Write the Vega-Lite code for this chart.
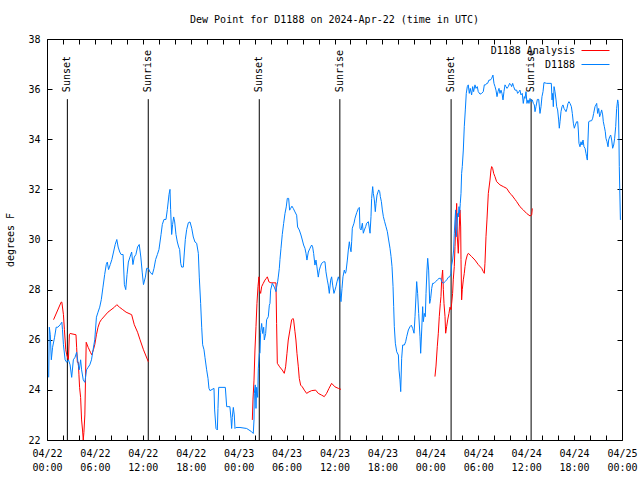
{
  "$schema": "https://vega.github.io/schema/vega-lite/v6.json",
  "width": 575,
  "height": 401,
  "autosize": {"type": "none"},
  "padding": {"left": 47, "top": 39, "right": 18, "bottom": 40},
  "background": "white",
  "title": {"text": "Dew Point for D1188 on 2024-Apr-22 (time in UTC)", "font": "DejaVu Sans Mono", "fontSize": 10, "fontWeight": "normal", "color": "black", "anchor": "middle", "baseline": "alphabetic", "offset": 1},
  "config": {
    "font": "DejaVu Sans Mono",
    "view": {"stroke": "black", "strokeWidth": 1},
    "axis": {"grid": false, "domain": false, "labelFont": "DejaVu Sans Mono", "labelFontSize": 10, "labelColor": "black", "tickColor": "black", "titleFont": "DejaVu Sans Mono", "titleFontSize": 10, "titleFontWeight": "normal", "titleColor": "black", "labelOverlap": false, "labelFlush": false},
    "legend": {"labelFont": "DejaVu Sans Mono", "labelFontSize": 10, "labelColor": "black"}
  },
  "datasets": {
    "sun": [
      {"hour": 2.55, "event": "Sunset"},
      {"hour": 12.68, "event": "Sunrise"},
      {"hour": 26.58, "event": "Sunset"},
      {"hour": 36.67, "event": "Sunrise"},
      {"hour": 50.6, "event": "Sunset"},
      {"hour": 60.62, "event": "Sunrise"}
    ],
    "obs": [
      {"series": "D1188 Analysis", "run": "a1", "hour": 0.82, "dewpoint": 26.8},
      {"series": "D1188 Analysis", "run": "a1", "hour": 1.77, "dewpoint": 27.5},
      {"series": "D1188 Analysis", "run": "a1", "hour": 1.86, "dewpoint": 27.5},
      {"series": "D1188 Analysis", "run": "a1", "hour": 2.06, "dewpoint": 27.0},
      {"series": "D1188 Analysis", "run": "a1", "hour": 2.18, "dewpoint": 26.4},
      {"series": "D1188 Analysis", "run": "a1", "hour": 2.35, "dewpoint": 25.6},
      {"series": "D1188 Analysis", "run": "a1", "hour": 2.47, "dewpoint": 25.4},
      {"series": "D1188 Analysis", "run": "a1", "hour": 2.68, "dewpoint": 25.2},
      {"series": "D1188 Analysis", "run": "a1", "hour": 2.8, "dewpoint": 26.2},
      {"series": "D1188 Analysis", "run": "a1", "hour": 2.89, "dewpoint": 26.25},
      {"series": "D1188 Analysis", "run": "a1", "hour": 3.63, "dewpoint": 26.2},
      {"series": "D1188 Analysis", "run": "a1", "hour": 3.71, "dewpoint": 25.7},
      {"series": "D1188 Analysis", "run": "a1", "hour": 3.8, "dewpoint": 25.1},
      {"series": "D1188 Analysis", "run": "a1", "hour": 3.92, "dewpoint": 25.1},
      {"series": "D1188 Analysis", "run": "a1", "hour": 4.0, "dewpoint": 24.6},
      {"series": "D1188 Analysis", "run": "a1", "hour": 4.08, "dewpoint": 24.1},
      {"series": "D1188 Analysis", "run": "a1", "hour": 4.21, "dewpoint": 23.7},
      {"series": "D1188 Analysis", "run": "a1", "hour": 4.33, "dewpoint": 22.8},
      {"series": "D1188 Analysis", "run": "a1", "hour": 4.45, "dewpoint": 22.4},
      {"series": "D1188 Analysis", "run": "a1", "hour": 4.54, "dewpoint": 22.0},
      {"series": "D1188 Analysis", "run": "a1", "hour": 4.62, "dewpoint": 22.3},
      {"series": "D1188 Analysis", "run": "a1", "hour": 4.74, "dewpoint": 23.0},
      {"series": "D1188 Analysis", "run": "a1", "hour": 4.82, "dewpoint": 24.4},
      {"series": "D1188 Analysis", "run": "a1", "hour": 4.91, "dewpoint": 25.9},
      {"series": "D1188 Analysis", "run": "a1", "hour": 5.15, "dewpoint": 25.7},
      {"series": "D1188 Analysis", "run": "a1", "hour": 5.44, "dewpoint": 25.5},
      {"series": "D1188 Analysis", "run": "a1", "hour": 5.6, "dewpoint": 25.4},
      {"series": "D1188 Analysis", "run": "a1", "hour": 5.81, "dewpoint": 25.6},
      {"series": "D1188 Analysis", "run": "a1", "hour": 5.98, "dewpoint": 25.8},
      {"series": "D1188 Analysis", "run": "a1", "hour": 6.19, "dewpoint": 26.2},
      {"series": "D1188 Analysis", "run": "a1", "hour": 6.39, "dewpoint": 26.5},
      {"series": "D1188 Analysis", "run": "a1", "hour": 6.6, "dewpoint": 26.7},
      {"series": "D1188 Analysis", "run": "a1", "hour": 6.8, "dewpoint": 26.8},
      {"series": "D1188 Analysis", "run": "a1", "hour": 7.63, "dewpoint": 27.1},
      {"series": "D1188 Analysis", "run": "a1", "hour": 8.45, "dewpoint": 27.3},
      {"series": "D1188 Analysis", "run": "a1", "hour": 8.74, "dewpoint": 27.4},
      {"series": "D1188 Analysis", "run": "a1", "hour": 9.07, "dewpoint": 27.3},
      {"series": "D1188 Analysis", "run": "a1", "hour": 9.49, "dewpoint": 27.2},
      {"series": "D1188 Analysis", "run": "a1", "hour": 9.9, "dewpoint": 27.1},
      {"series": "D1188 Analysis", "run": "a1", "hour": 10.6, "dewpoint": 27.0},
      {"series": "D1188 Analysis", "run": "a1", "hour": 10.93, "dewpoint": 26.6},
      {"series": "D1188 Analysis", "run": "a1", "hour": 11.34, "dewpoint": 26.3},
      {"series": "D1188 Analysis", "run": "a1", "hour": 11.65, "dewpoint": 26.0},
      {"series": "D1188 Analysis", "run": "a1", "hour": 12.08, "dewpoint": 25.6},
      {"series": "D1188 Analysis", "run": "a1", "hour": 12.69, "dewpoint": 25.12},
      {"series": "D1188 Analysis", "run": "a2", "hour": 25.71, "dewpoint": 22.8},
      {"series": "D1188 Analysis", "run": "a2", "hour": 25.79, "dewpoint": 23.6},
      {"series": "D1188 Analysis", "run": "a2", "hour": 25.92, "dewpoint": 24.39},
      {"series": "D1188 Analysis", "run": "a2", "hour": 26.04, "dewpoint": 25.59},
      {"series": "D1188 Analysis", "run": "a2", "hour": 26.17, "dewpoint": 26.52},
      {"series": "D1188 Analysis", "run": "a2", "hour": 26.29, "dewpoint": 27.45},
      {"series": "D1188 Analysis", "run": "a2", "hour": 26.42, "dewpoint": 28.12},
      {"series": "D1188 Analysis", "run": "a2", "hour": 26.54, "dewpoint": 28.51},
      {"series": "D1188 Analysis", "run": "a2", "hour": 26.62, "dewpoint": 27.98},
      {"series": "D1188 Analysis", "run": "a2", "hour": 26.75, "dewpoint": 27.85},
      {"series": "D1188 Analysis", "run": "a2", "hour": 26.88, "dewpoint": 28.12},
      {"series": "D1188 Analysis", "run": "a2", "hour": 27.08, "dewpoint": 28.25},
      {"series": "D1188 Analysis", "run": "a2", "hour": 27.29, "dewpoint": 28.38},
      {"series": "D1188 Analysis", "run": "a2", "hour": 27.46, "dewpoint": 28.45},
      {"series": "D1188 Analysis", "run": "a2", "hour": 27.59, "dewpoint": 28.51},
      {"series": "D1188 Analysis", "run": "a2", "hour": 27.79, "dewpoint": 28.31},
      {"series": "D1188 Analysis", "run": "a2", "hour": 28.04, "dewpoint": 28.27},
      {"series": "D1188 Analysis", "run": "a2", "hour": 28.67, "dewpoint": 28.27},
      {"series": "D1188 Analysis", "run": "a2", "hour": 28.75, "dewpoint": 26.65},
      {"series": "D1188 Analysis", "run": "a2", "hour": 28.84, "dewpoint": 25.06},
      {"series": "D1188 Analysis", "run": "a2", "hour": 29.13, "dewpoint": 24.92},
      {"series": "D1188 Analysis", "run": "a2", "hour": 29.46, "dewpoint": 24.79},
      {"series": "D1188 Analysis", "run": "a2", "hour": 29.71, "dewpoint": 24.66},
      {"series": "D1188 Analysis", "run": "a2", "hour": 29.88, "dewpoint": 24.92},
      {"series": "D1188 Analysis", "run": "a2", "hour": 30.05, "dewpoint": 25.46},
      {"series": "D1188 Analysis", "run": "a2", "hour": 30.21, "dewpoint": 25.99},
      {"series": "D1188 Analysis", "run": "a2", "hour": 30.42, "dewpoint": 26.39},
      {"series": "D1188 Analysis", "run": "a2", "hour": 30.63, "dewpoint": 26.79},
      {"series": "D1188 Analysis", "run": "a2", "hour": 30.8, "dewpoint": 26.85},
      {"series": "D1188 Analysis", "run": "a2", "hour": 30.88, "dewpoint": 26.79},
      {"series": "D1188 Analysis", "run": "a2", "hour": 31.05, "dewpoint": 26.32},
      {"series": "D1188 Analysis", "run": "a2", "hour": 31.17, "dewpoint": 25.99},
      {"series": "D1188 Analysis", "run": "a2", "hour": 31.3, "dewpoint": 25.46},
      {"series": "D1188 Analysis", "run": "a2", "hour": 31.47, "dewpoint": 24.92},
      {"series": "D1188 Analysis", "run": "a2", "hour": 31.59, "dewpoint": 24.46},
      {"series": "D1188 Analysis", "run": "a2", "hour": 31.76, "dewpoint": 24.19},
      {"series": "D1188 Analysis", "run": "a2", "hour": 31.97, "dewpoint": 24.12},
      {"series": "D1188 Analysis", "run": "a2", "hour": 32.22, "dewpoint": 23.99},
      {"series": "D1188 Analysis", "run": "a2", "hour": 32.51, "dewpoint": 23.86},
      {"series": "D1188 Analysis", "run": "a2", "hour": 32.8, "dewpoint": 23.92},
      {"series": "D1188 Analysis", "run": "a2", "hour": 33.14, "dewpoint": 23.97},
      {"series": "D1188 Analysis", "run": "a2", "hour": 33.64, "dewpoint": 23.99},
      {"series": "D1188 Analysis", "run": "a2", "hour": 33.97, "dewpoint": 23.86},
      {"series": "D1188 Analysis", "run": "a2", "hour": 34.39, "dewpoint": 23.79},
      {"series": "D1188 Analysis", "run": "a2", "hour": 34.72, "dewpoint": 23.73},
      {"series": "D1188 Analysis", "run": "a2", "hour": 35.01, "dewpoint": 23.86},
      {"series": "D1188 Analysis", "run": "a2", "hour": 35.31, "dewpoint": 24.06},
      {"series": "D1188 Analysis", "run": "a2", "hour": 35.64, "dewpoint": 24.26},
      {"series": "D1188 Analysis", "run": "a2", "hour": 36.06, "dewpoint": 24.12},
      {"series": "D1188 Analysis", "run": "a2", "hour": 36.48, "dewpoint": 24.06},
      {"series": "D1188 Analysis", "run": "a2", "hour": 36.81, "dewpoint": 24.02},
      {"series": "D1188 Analysis", "run": "a3", "hour": 48.58, "dewpoint": 24.53},
      {"series": "D1188 Analysis", "run": "a3", "hour": 48.71, "dewpoint": 24.95},
      {"series": "D1188 Analysis", "run": "a3", "hour": 48.87, "dewpoint": 25.72},
      {"series": "D1188 Analysis", "run": "a3", "hour": 49.0, "dewpoint": 26.26},
      {"series": "D1188 Analysis", "run": "a3", "hour": 49.12, "dewpoint": 26.92},
      {"series": "D1188 Analysis", "run": "a3", "hour": 49.25, "dewpoint": 27.45},
      {"series": "D1188 Analysis", "run": "a3", "hour": 49.33, "dewpoint": 27.72},
      {"series": "D1188 Analysis", "run": "a3", "hour": 49.42, "dewpoint": 28.39},
      {"series": "D1188 Analysis", "run": "a3", "hour": 49.54, "dewpoint": 28.78},
      {"series": "D1188 Analysis", "run": "a3", "hour": 49.63, "dewpoint": 28.0},
      {"series": "D1188 Analysis", "run": "a3", "hour": 49.71, "dewpoint": 27.45},
      {"series": "D1188 Analysis", "run": "a3", "hour": 49.84, "dewpoint": 26.92},
      {"series": "D1188 Analysis", "run": "a3", "hour": 49.92, "dewpoint": 26.26},
      {"series": "D1188 Analysis", "run": "a3", "hour": 50.04, "dewpoint": 26.52},
      {"series": "D1188 Analysis", "run": "a3", "hour": 50.17, "dewpoint": 26.79},
      {"series": "D1188 Analysis", "run": "a3", "hour": 50.33, "dewpoint": 27.05},
      {"series": "D1188 Analysis", "run": "a3", "hour": 50.46, "dewpoint": 27.3},
      {"series": "D1188 Analysis", "run": "a3", "hour": 50.59, "dewpoint": 27.2},
      {"series": "D1188 Analysis", "run": "a3", "hour": 50.67, "dewpoint": 27.45},
      {"series": "D1188 Analysis", "run": "a3", "hour": 50.79, "dewpoint": 27.85},
      {"series": "D1188 Analysis", "run": "a3", "hour": 50.87, "dewpoint": 28.39},
      {"series": "D1188 Analysis", "run": "a3", "hour": 51.0, "dewpoint": 28.92},
      {"series": "D1188 Analysis", "run": "a3", "hour": 51.09, "dewpoint": 29.72},
      {"series": "D1188 Analysis", "run": "a3", "hour": 51.21, "dewpoint": 30.78},
      {"series": "D1188 Analysis", "run": "a3", "hour": 51.3, "dewpoint": 31.44},
      {"series": "D1188 Analysis", "run": "a3", "hour": 51.38, "dewpoint": 30.1},
      {"series": "D1188 Analysis", "run": "a3", "hour": 51.5, "dewpoint": 29.45},
      {"series": "D1188 Analysis", "run": "a3", "hour": 51.63, "dewpoint": 30.5},
      {"series": "D1188 Analysis", "run": "a3", "hour": 51.71, "dewpoint": 31.18},
      {"series": "D1188 Analysis", "run": "a3", "hour": 51.8, "dewpoint": 30.5},
      {"series": "D1188 Analysis", "run": "a3", "hour": 51.84, "dewpoint": 29.2},
      {"series": "D1188 Analysis", "run": "a3", "hour": 51.92, "dewpoint": 27.59},
      {"series": "D1188 Analysis", "run": "a3", "hour": 52.0, "dewpoint": 28.0},
      {"series": "D1188 Analysis", "run": "a3", "hour": 52.13, "dewpoint": 28.39},
      {"series": "D1188 Analysis", "run": "a3", "hour": 52.25, "dewpoint": 28.65},
      {"series": "D1188 Analysis", "run": "a3", "hour": 52.34, "dewpoint": 28.92},
      {"series": "D1188 Analysis", "run": "a3", "hour": 52.46, "dewpoint": 29.18},
      {"series": "D1188 Analysis", "run": "a3", "hour": 52.63, "dewpoint": 29.38},
      {"series": "D1188 Analysis", "run": "a3", "hour": 52.76, "dewpoint": 29.45},
      {"series": "D1188 Analysis", "run": "a3", "hour": 53.17, "dewpoint": 29.32},
      {"series": "D1188 Analysis", "run": "a3", "hour": 53.59, "dewpoint": 29.18},
      {"series": "D1188 Analysis", "run": "a3", "hour": 54.0, "dewpoint": 29.0},
      {"series": "D1188 Analysis", "run": "a3", "hour": 54.43, "dewpoint": 28.85},
      {"series": "D1188 Analysis", "run": "a3", "hour": 54.63, "dewpoint": 28.72},
      {"series": "D1188 Analysis", "run": "a3", "hour": 54.76, "dewpoint": 28.65},
      {"series": "D1188 Analysis", "run": "a3", "hour": 54.84, "dewpoint": 29.05},
      {"series": "D1188 Analysis", "run": "a3", "hour": 54.97, "dewpoint": 30.11},
      {"series": "D1188 Analysis", "run": "a3", "hour": 55.09, "dewpoint": 30.78},
      {"series": "D1188 Analysis", "run": "a3", "hour": 55.26, "dewpoint": 31.84},
      {"series": "D1188 Analysis", "run": "a3", "hour": 55.47, "dewpoint": 32.37},
      {"series": "D1188 Analysis", "run": "a3", "hour": 55.59, "dewpoint": 32.77},
      {"series": "D1188 Analysis", "run": "a3", "hour": 55.68, "dewpoint": 32.91},
      {"series": "D1188 Analysis", "run": "a3", "hour": 55.8, "dewpoint": 32.84},
      {"series": "D1188 Analysis", "run": "a3", "hour": 55.93, "dewpoint": 32.64},
      {"series": "D1188 Analysis", "run": "a3", "hour": 56.09, "dewpoint": 32.51},
      {"series": "D1188 Analysis", "run": "a3", "hour": 56.3, "dewpoint": 32.31},
      {"series": "D1188 Analysis", "run": "a3", "hour": 56.72, "dewpoint": 32.18},
      {"series": "D1188 Analysis", "run": "a3", "hour": 57.14, "dewpoint": 32.11},
      {"series": "D1188 Analysis", "run": "a3", "hour": 57.56, "dewpoint": 32.04},
      {"series": "D1188 Analysis", "run": "a3", "hour": 57.97, "dewpoint": 31.84},
      {"series": "D1188 Analysis", "run": "a3", "hour": 58.18, "dewpoint": 31.78},
      {"series": "D1188 Analysis", "run": "a3", "hour": 58.6, "dewpoint": 31.6},
      {"series": "D1188 Analysis", "run": "a3", "hour": 58.81, "dewpoint": 31.51},
      {"series": "D1188 Analysis", "run": "a3", "hour": 59.22, "dewpoint": 31.31},
      {"series": "D1188 Analysis", "run": "a3", "hour": 59.64, "dewpoint": 31.18},
      {"series": "D1188 Analysis", "run": "a3", "hour": 60.06, "dewpoint": 31.04},
      {"series": "D1188 Analysis", "run": "a3", "hour": 60.48, "dewpoint": 30.94},
      {"series": "D1188 Analysis", "run": "a3", "hour": 60.69, "dewpoint": 30.98},
      {"series": "D1188 Analysis", "run": "a3", "hour": 60.77, "dewpoint": 31.24},
      {"series": "D1188", "run": "b", "hour": 0.21, "dewpoint": 24.5},
      {"series": "D1188", "run": "b", "hour": 0.29, "dewpoint": 26.5},
      {"series": "D1188", "run": "b", "hour": 0.41, "dewpoint": 26.2},
      {"series": "D1188", "run": "b", "hour": 0.54, "dewpoint": 25.2},
      {"series": "D1188", "run": "b", "hour": 0.7, "dewpoint": 25.7},
      {"series": "D1188", "run": "b", "hour": 0.95, "dewpoint": 26.1},
      {"series": "D1188", "run": "b", "hour": 1.15, "dewpoint": 26.5},
      {"series": "D1188", "run": "b", "hour": 1.36, "dewpoint": 26.5},
      {"series": "D1188", "run": "b", "hour": 1.65, "dewpoint": 26.6},
      {"series": "D1188", "run": "b", "hour": 1.86, "dewpoint": 26.7},
      {"series": "D1188", "run": "b", "hour": 1.94, "dewpoint": 26.4},
      {"series": "D1188", "run": "b", "hour": 2.06, "dewpoint": 25.8},
      {"series": "D1188", "run": "b", "hour": 2.27, "dewpoint": 25.2},
      {"series": "D1188", "run": "b", "hour": 2.47, "dewpoint": 25.1},
      {"series": "D1188", "run": "b", "hour": 2.68, "dewpoint": 25.2},
      {"series": "D1188", "run": "b", "hour": 2.89, "dewpoint": 25.0},
      {"series": "D1188", "run": "b", "hour": 3.09, "dewpoint": 24.5},
      {"series": "D1188", "run": "b", "hour": 3.3, "dewpoint": 25.2},
      {"series": "D1188", "run": "b", "hour": 3.51, "dewpoint": 25.3},
      {"series": "D1188", "run": "b", "hour": 3.71, "dewpoint": 25.5},
      {"series": "D1188", "run": "b", "hour": 3.92, "dewpoint": 25.0},
      {"series": "D1188", "run": "b", "hour": 4.04, "dewpoint": 24.8},
      {"series": "D1188", "run": "b", "hour": 4.21, "dewpoint": 25.2},
      {"series": "D1188", "run": "b", "hour": 4.33, "dewpoint": 24.8},
      {"series": "D1188", "run": "b", "hour": 4.54, "dewpoint": 24.4},
      {"series": "D1188", "run": "b", "hour": 4.74, "dewpoint": 24.3},
      {"series": "D1188", "run": "b", "hour": 4.95, "dewpoint": 24.8},
      {"series": "D1188", "run": "b", "hour": 5.15, "dewpoint": 24.9},
      {"series": "D1188", "run": "b", "hour": 5.36, "dewpoint": 25.0},
      {"series": "D1188", "run": "b", "hour": 5.57, "dewpoint": 25.2},
      {"series": "D1188", "run": "b", "hour": 5.77, "dewpoint": 25.6},
      {"series": "D1188", "run": "b", "hour": 5.98, "dewpoint": 26.0},
      {"series": "D1188", "run": "b", "hour": 6.19, "dewpoint": 26.9},
      {"series": "D1188", "run": "b", "hour": 6.39, "dewpoint": 27.1},
      {"series": "D1188", "run": "b", "hour": 6.6, "dewpoint": 27.3},
      {"series": "D1188", "run": "b", "hour": 6.8, "dewpoint": 27.6},
      {"series": "D1188", "run": "b", "hour": 7.01, "dewpoint": 28.1},
      {"series": "D1188", "run": "b", "hour": 7.22, "dewpoint": 28.6},
      {"series": "D1188", "run": "b", "hour": 7.42, "dewpoint": 29.0},
      {"series": "D1188", "run": "b", "hour": 7.55, "dewpoint": 29.1},
      {"series": "D1188", "run": "b", "hour": 7.71, "dewpoint": 28.8},
      {"series": "D1188", "run": "b", "hour": 7.92, "dewpoint": 29.0},
      {"series": "D1188", "run": "b", "hour": 8.12, "dewpoint": 29.2},
      {"series": "D1188", "run": "b", "hour": 8.33, "dewpoint": 29.5},
      {"series": "D1188", "run": "b", "hour": 8.54, "dewpoint": 29.8},
      {"series": "D1188", "run": "b", "hour": 8.74, "dewpoint": 30.0},
      {"series": "D1188", "run": "b", "hour": 8.91, "dewpoint": 29.7},
      {"series": "D1188", "run": "b", "hour": 9.11, "dewpoint": 29.5},
      {"series": "D1188", "run": "b", "hour": 9.28, "dewpoint": 29.4},
      {"series": "D1188", "run": "b", "hour": 9.53, "dewpoint": 29.4},
      {"series": "D1188", "run": "b", "hour": 9.69, "dewpoint": 28.2},
      {"series": "D1188", "run": "b", "hour": 9.86, "dewpoint": 28.0},
      {"series": "D1188", "run": "b", "hour": 10.02, "dewpoint": 28.6},
      {"series": "D1188", "run": "b", "hour": 10.19, "dewpoint": 29.1},
      {"series": "D1188", "run": "b", "hour": 10.39, "dewpoint": 29.3},
      {"series": "D1188", "run": "b", "hour": 10.6, "dewpoint": 29.5},
      {"series": "D1188", "run": "b", "hour": 10.76, "dewpoint": 29.0},
      {"series": "D1188", "run": "b", "hour": 10.93, "dewpoint": 29.3},
      {"series": "D1188", "run": "b", "hour": 11.13, "dewpoint": 29.4},
      {"series": "D1188", "run": "b", "hour": 11.34, "dewpoint": 29.7},
      {"series": "D1188", "run": "b", "hour": 11.55, "dewpoint": 29.8},
      {"series": "D1188", "run": "b", "hour": 11.75, "dewpoint": 29.3},
      {"series": "D1188", "run": "b", "hour": 11.92, "dewpoint": 28.7},
      {"series": "D1188", "run": "b", "hour": 12.08, "dewpoint": 28.2},
      {"series": "D1188", "run": "b", "hour": 12.32, "dewpoint": 28.5},
      {"series": "D1188", "run": "b", "hour": 12.48, "dewpoint": 28.85},
      {"series": "D1188", "run": "b", "hour": 12.69, "dewpoint": 28.85},
      {"series": "D1188", "run": "b", "hour": 12.9, "dewpoint": 28.7},
      {"series": "D1188", "run": "b", "hour": 13.19, "dewpoint": 28.6},
      {"series": "D1188", "run": "b", "hour": 13.4, "dewpoint": 28.85},
      {"series": "D1188", "run": "b", "hour": 13.6, "dewpoint": 29.2},
      {"series": "D1188", "run": "b", "hour": 13.82, "dewpoint": 29.4},
      {"series": "D1188", "run": "b", "hour": 14.02, "dewpoint": 29.6},
      {"series": "D1188", "run": "b", "hour": 14.15, "dewpoint": 29.9},
      {"series": "D1188", "run": "b", "hour": 14.28, "dewpoint": 30.2},
      {"series": "D1188", "run": "b", "hour": 14.44, "dewpoint": 30.6},
      {"series": "D1188", "run": "b", "hour": 14.65, "dewpoint": 30.8},
      {"series": "D1188", "run": "b", "hour": 14.9, "dewpoint": 30.8},
      {"series": "D1188", "run": "b", "hour": 15.07, "dewpoint": 31.2},
      {"series": "D1188", "run": "b", "hour": 15.28, "dewpoint": 31.8},
      {"series": "D1188", "run": "b", "hour": 15.4, "dewpoint": 32.0},
      {"series": "D1188", "run": "b", "hour": 15.48, "dewpoint": 31.2},
      {"series": "D1188", "run": "b", "hour": 15.61, "dewpoint": 30.2},
      {"series": "D1188", "run": "b", "hour": 15.73, "dewpoint": 30.6},
      {"series": "D1188", "run": "b", "hour": 15.86, "dewpoint": 30.9},
      {"series": "D1188", "run": "b", "hour": 15.99, "dewpoint": 30.7},
      {"series": "D1188", "run": "b", "hour": 16.15, "dewpoint": 30.2},
      {"series": "D1188", "run": "b", "hour": 16.32, "dewpoint": 29.9},
      {"series": "D1188", "run": "b", "hour": 16.49, "dewpoint": 29.7},
      {"series": "D1188", "run": "b", "hour": 16.61, "dewpoint": 29.6},
      {"series": "D1188", "run": "b", "hour": 16.74, "dewpoint": 29.05},
      {"series": "D1188", "run": "b", "hour": 16.86, "dewpoint": 28.9},
      {"series": "D1188", "run": "b", "hour": 17.07, "dewpoint": 28.9},
      {"series": "D1188", "run": "b", "hour": 17.2, "dewpoint": 29.5},
      {"series": "D1188", "run": "b", "hour": 17.32, "dewpoint": 30.0},
      {"series": "D1188", "run": "b", "hour": 17.49, "dewpoint": 30.4},
      {"series": "D1188", "run": "b", "hour": 17.7, "dewpoint": 30.67},
      {"series": "D1188", "run": "b", "hour": 17.91, "dewpoint": 30.7},
      {"series": "D1188", "run": "b", "hour": 18.12, "dewpoint": 30.45},
      {"series": "D1188", "run": "b", "hour": 18.32, "dewpoint": 30.1},
      {"series": "D1188", "run": "b", "hour": 18.53, "dewpoint": 29.9},
      {"series": "D1188", "run": "b", "hour": 18.74, "dewpoint": 29.85},
      {"series": "D1188", "run": "b", "hour": 18.95, "dewpoint": 29.45},
      {"series": "D1188", "run": "b", "hour": 19.07, "dewpoint": 28.5},
      {"series": "D1188", "run": "b", "hour": 19.24, "dewpoint": 27.45},
      {"series": "D1188", "run": "b", "hour": 19.37, "dewpoint": 26.5},
      {"series": "D1188", "run": "b", "hour": 19.49, "dewpoint": 25.8},
      {"series": "D1188", "run": "b", "hour": 19.66, "dewpoint": 25.6},
      {"series": "D1188", "run": "b", "hour": 19.78, "dewpoint": 25.3},
      {"series": "D1188", "run": "b", "hour": 19.99, "dewpoint": 24.8},
      {"series": "D1188", "run": "b", "hour": 20.16, "dewpoint": 24.46},
      {"series": "D1188", "run": "b", "hour": 20.28, "dewpoint": 24.06},
      {"series": "D1188", "run": "b", "hour": 20.41, "dewpoint": 23.97},
      {"series": "D1188", "run": "b", "hour": 20.91, "dewpoint": 24.06},
      {"series": "D1188", "run": "b", "hour": 20.99, "dewpoint": 23.2},
      {"series": "D1188", "run": "b", "hour": 21.16, "dewpoint": 22.46},
      {"series": "D1188", "run": "b", "hour": 21.33, "dewpoint": 22.4},
      {"series": "D1188", "run": "b", "hour": 21.41, "dewpoint": 23.26},
      {"series": "D1188", "run": "b", "hour": 21.5, "dewpoint": 24.1},
      {"series": "D1188", "run": "b", "hour": 22.33, "dewpoint": 24.1},
      {"series": "D1188", "run": "b", "hour": 22.5, "dewpoint": 23.33},
      {"series": "D1188", "run": "b", "hour": 22.9, "dewpoint": 23.33},
      {"series": "D1188", "run": "b", "hour": 23.04, "dewpoint": 22.86},
      {"series": "D1188", "run": "b", "hour": 23.12, "dewpoint": 22.46},
      {"series": "D1188", "run": "b", "hour": 23.2, "dewpoint": 22.9},
      {"series": "D1188", "run": "b", "hour": 23.33, "dewpoint": 23.3},
      {"series": "D1188", "run": "b", "hour": 23.45, "dewpoint": 23.0},
      {"series": "D1188", "run": "b", "hour": 23.54, "dewpoint": 22.46},
      {"series": "D1188", "run": "b", "hour": 23.66, "dewpoint": 22.5},
      {"series": "D1188", "run": "b", "hour": 24.17, "dewpoint": 22.5},
      {"series": "D1188", "run": "b", "hour": 25.0, "dewpoint": 22.46},
      {"series": "D1188", "run": "b", "hour": 25.29, "dewpoint": 22.4},
      {"series": "D1188", "run": "b", "hour": 25.62, "dewpoint": 22.33},
      {"series": "D1188", "run": "b", "hour": 25.83, "dewpoint": 22.26},
      {"series": "D1188", "run": "b", "hour": 25.92, "dewpoint": 22.8},
      {"series": "D1188", "run": "b", "hour": 25.96, "dewpoint": 23.86},
      {"series": "D1188", "run": "b", "hour": 26.08, "dewpoint": 24.2},
      {"series": "D1188", "run": "b", "hour": 26.17, "dewpoint": 23.26},
      {"series": "D1188", "run": "b", "hour": 26.25, "dewpoint": 24.1},
      {"series": "D1188", "run": "b", "hour": 26.38, "dewpoint": 23.7},
      {"series": "D1188", "run": "b", "hour": 26.46, "dewpoint": 24.86},
      {"series": "D1188", "run": "b", "hour": 26.59, "dewpoint": 25.46},
      {"series": "D1188", "run": "b", "hour": 26.67, "dewpoint": 25.46},
      {"series": "D1188", "run": "b", "hour": 26.75, "dewpoint": 26.3},
      {"series": "D1188", "run": "b", "hour": 26.88, "dewpoint": 26.65},
      {"series": "D1188", "run": "b", "hour": 27.0, "dewpoint": 26.25},
      {"series": "D1188", "run": "b", "hour": 27.13, "dewpoint": 26.5},
      {"series": "D1188", "run": "b", "hour": 27.21, "dewpoint": 25.99},
      {"series": "D1188", "run": "b", "hour": 27.38, "dewpoint": 26.25},
      {"series": "D1188", "run": "b", "hour": 27.5, "dewpoint": 26.8},
      {"series": "D1188", "run": "b", "hour": 27.71, "dewpoint": 26.92},
      {"series": "D1188", "run": "b", "hour": 27.84, "dewpoint": 27.38},
      {"series": "D1188", "run": "b", "hour": 27.92, "dewpoint": 27.45},
      {"series": "D1188", "run": "b", "hour": 28.0, "dewpoint": 27.98},
      {"series": "D1188", "run": "b", "hour": 28.21, "dewpoint": 28.25},
      {"series": "D1188", "run": "b", "hour": 28.46, "dewpoint": 28.1},
      {"series": "D1188", "run": "b", "hour": 28.67, "dewpoint": 27.92},
      {"series": "D1188", "run": "b", "hour": 28.75, "dewpoint": 28.1},
      {"series": "D1188", "run": "b", "hour": 28.88, "dewpoint": 28.31},
      {"series": "D1188", "run": "b", "hour": 28.96, "dewpoint": 28.5},
      {"series": "D1188", "run": "b", "hour": 29.09, "dewpoint": 28.85},
      {"series": "D1188", "run": "b", "hour": 29.17, "dewpoint": 29.2},
      {"series": "D1188", "run": "b", "hour": 29.3, "dewpoint": 29.65},
      {"series": "D1188", "run": "b", "hour": 29.46, "dewpoint": 30.2},
      {"series": "D1188", "run": "b", "hour": 29.63, "dewpoint": 30.64},
      {"series": "D1188", "run": "b", "hour": 29.8, "dewpoint": 31.04},
      {"series": "D1188", "run": "b", "hour": 29.96, "dewpoint": 31.3},
      {"series": "D1188", "run": "b", "hour": 30.09, "dewpoint": 31.64},
      {"series": "D1188", "run": "b", "hour": 30.26, "dewpoint": 31.64},
      {"series": "D1188", "run": "b", "hour": 30.38, "dewpoint": 31.17},
      {"series": "D1188", "run": "b", "hour": 30.51, "dewpoint": 31.24},
      {"series": "D1188", "run": "b", "hour": 30.67, "dewpoint": 31.33},
      {"series": "D1188", "run": "b", "hour": 30.84, "dewpoint": 31.24},
      {"series": "D1188", "run": "b", "hour": 31.05, "dewpoint": 31.1},
      {"series": "D1188", "run": "b", "hour": 31.26, "dewpoint": 30.97},
      {"series": "D1188", "run": "b", "hour": 31.38, "dewpoint": 30.5},
      {"series": "D1188", "run": "b", "hour": 31.59, "dewpoint": 30.38},
      {"series": "D1188", "run": "b", "hour": 31.8, "dewpoint": 30.18},
      {"series": "D1188", "run": "b", "hour": 31.97, "dewpoint": 29.98},
      {"series": "D1188", "run": "b", "hour": 32.13, "dewpoint": 29.78},
      {"series": "D1188", "run": "b", "hour": 32.3, "dewpoint": 29.65},
      {"series": "D1188", "run": "b", "hour": 32.43, "dewpoint": 29.45},
      {"series": "D1188", "run": "b", "hour": 32.55, "dewpoint": 29.18},
      {"series": "D1188", "run": "b", "hour": 32.72, "dewpoint": 29.5},
      {"series": "D1188", "run": "b", "hour": 32.93, "dewpoint": 29.65},
      {"series": "D1188", "run": "b", "hour": 33.14, "dewpoint": 29.78},
      {"series": "D1188", "run": "b", "hour": 33.26, "dewpoint": 29.71},
      {"series": "D1188", "run": "b", "hour": 33.39, "dewpoint": 29.44},
      {"series": "D1188", "run": "b", "hour": 33.55, "dewpoint": 28.98},
      {"series": "D1188", "run": "b", "hour": 33.68, "dewpoint": 29.18},
      {"series": "D1188", "run": "b", "hour": 33.8, "dewpoint": 28.91},
      {"series": "D1188", "run": "b", "hour": 33.97, "dewpoint": 28.5},
      {"series": "D1188", "run": "b", "hour": 34.1, "dewpoint": 28.78},
      {"series": "D1188", "run": "b", "hour": 34.22, "dewpoint": 28.91},
      {"series": "D1188", "run": "b", "hour": 34.39, "dewpoint": 29.05},
      {"series": "D1188", "run": "b", "hour": 34.64, "dewpoint": 29.11},
      {"series": "D1188", "run": "b", "hour": 34.81, "dewpoint": 29.11},
      {"series": "D1188", "run": "b", "hour": 34.93, "dewpoint": 28.71},
      {"series": "D1188", "run": "b", "hour": 35.1, "dewpoint": 28.38},
      {"series": "D1188", "run": "b", "hour": 35.22, "dewpoint": 28.18},
      {"series": "D1188", "run": "b", "hour": 35.35, "dewpoint": 27.85},
      {"series": "D1188", "run": "b", "hour": 35.52, "dewpoint": 28.38},
      {"series": "D1188", "run": "b", "hour": 35.64, "dewpoint": 28.51},
      {"series": "D1188", "run": "b", "hour": 35.77, "dewpoint": 28.18},
      {"series": "D1188", "run": "b", "hour": 35.93, "dewpoint": 27.85},
      {"series": "D1188", "run": "b", "hour": 36.06, "dewpoint": 27.98},
      {"series": "D1188", "run": "b", "hour": 36.18, "dewpoint": 28.12},
      {"series": "D1188", "run": "b", "hour": 36.31, "dewpoint": 28.31},
      {"series": "D1188", "run": "b", "hour": 36.48, "dewpoint": 28.51},
      {"series": "D1188", "run": "b", "hour": 36.6, "dewpoint": 28.38},
      {"series": "D1188", "run": "b", "hour": 36.73, "dewpoint": 27.78},
      {"series": "D1188", "run": "b", "hour": 36.81, "dewpoint": 27.52},
      {"series": "D1188", "run": "b", "hour": 36.94, "dewpoint": 28.05},
      {"series": "D1188", "run": "b", "hour": 37.06, "dewpoint": 28.51},
      {"series": "D1188", "run": "b", "hour": 37.23, "dewpoint": 28.78},
      {"series": "D1188", "run": "b", "hour": 37.36, "dewpoint": 28.65},
      {"series": "D1188", "run": "b", "hour": 37.44, "dewpoint": 28.72},
      {"series": "D1188", "run": "b", "hour": 37.61, "dewpoint": 29.18},
      {"series": "D1188", "run": "b", "hour": 37.73, "dewpoint": 29.58},
      {"series": "D1188", "run": "b", "hour": 37.86, "dewpoint": 29.91},
      {"series": "D1188", "run": "b", "hour": 37.94, "dewpoint": 29.71},
      {"series": "D1188", "run": "b", "hour": 38.07, "dewpoint": 29.51},
      {"series": "D1188", "run": "b", "hour": 38.15, "dewpoint": 29.91},
      {"series": "D1188", "run": "b", "hour": 38.23, "dewpoint": 30.45},
      {"series": "D1188", "run": "b", "hour": 38.44, "dewpoint": 30.65},
      {"series": "D1188", "run": "b", "hour": 38.57, "dewpoint": 30.85},
      {"series": "D1188", "run": "b", "hour": 38.78, "dewpoint": 31.07},
      {"series": "D1188", "run": "b", "hour": 38.99, "dewpoint": 31.24},
      {"series": "D1188", "run": "b", "hour": 39.11, "dewpoint": 31.28},
      {"series": "D1188", "run": "b", "hour": 39.19, "dewpoint": 30.45},
      {"series": "D1188", "run": "b", "hour": 39.32, "dewpoint": 30.38},
      {"series": "D1188", "run": "b", "hour": 39.49, "dewpoint": 30.65},
      {"series": "D1188", "run": "b", "hour": 39.61, "dewpoint": 30.25},
      {"series": "D1188", "run": "b", "hour": 39.74, "dewpoint": 30.38},
      {"series": "D1188", "run": "b", "hour": 39.9, "dewpoint": 30.51},
      {"series": "D1188", "run": "b", "hour": 40.03, "dewpoint": 30.65},
      {"series": "D1188", "run": "b", "hour": 40.24, "dewpoint": 30.71},
      {"series": "D1188", "run": "b", "hour": 40.45, "dewpoint": 30.25},
      {"series": "D1188", "run": "b", "hour": 40.57, "dewpoint": 30.91},
      {"series": "D1188", "run": "b", "hour": 40.65, "dewpoint": 31.64},
      {"series": "D1188", "run": "b", "hour": 40.78, "dewpoint": 32.11},
      {"series": "D1188", "run": "b", "hour": 40.86, "dewpoint": 31.84},
      {"series": "D1188", "run": "b", "hour": 40.99, "dewpoint": 31.58},
      {"series": "D1188", "run": "b", "hour": 41.11, "dewpoint": 31.11},
      {"series": "D1188", "run": "b", "hour": 41.2, "dewpoint": 31.44},
      {"series": "D1188", "run": "b", "hour": 41.32, "dewpoint": 31.77},
      {"series": "D1188", "run": "b", "hour": 41.53, "dewpoint": 31.98},
      {"series": "D1188", "run": "b", "hour": 41.66, "dewpoint": 31.91},
      {"series": "D1188", "run": "b", "hour": 41.74, "dewpoint": 31.71},
      {"series": "D1188", "run": "b", "hour": 41.87, "dewpoint": 31.51},
      {"series": "D1188", "run": "b", "hour": 41.99, "dewpoint": 31.18},
      {"series": "D1188", "run": "b", "hour": 42.12, "dewpoint": 30.91},
      {"series": "D1188", "run": "b", "hour": 42.28, "dewpoint": 30.71},
      {"series": "D1188", "run": "b", "hour": 42.45, "dewpoint": 30.51},
      {"series": "D1188", "run": "b", "hour": 42.62, "dewpoint": 30.31},
      {"series": "D1188", "run": "b", "hour": 42.78, "dewpoint": 29.98},
      {"series": "D1188", "run": "b", "hour": 42.95, "dewpoint": 29.65},
      {"series": "D1188", "run": "b", "hour": 43.08, "dewpoint": 29.32},
      {"series": "D1188", "run": "b", "hour": 43.2, "dewpoint": 28.92},
      {"series": "D1188", "run": "b", "hour": 43.33, "dewpoint": 28.12},
      {"series": "D1188", "run": "b", "hour": 43.41, "dewpoint": 27.32},
      {"series": "D1188", "run": "b", "hour": 43.49, "dewpoint": 26.52},
      {"series": "D1188", "run": "b", "hour": 43.62, "dewpoint": 25.86},
      {"series": "D1188", "run": "b", "hour": 43.79, "dewpoint": 25.52},
      {"series": "D1188", "run": "b", "hour": 44.0, "dewpoint": 25.39},
      {"series": "D1188", "run": "b", "hour": 44.08, "dewpoint": 24.79},
      {"series": "D1188", "run": "b", "hour": 44.2, "dewpoint": 24.4},
      {"series": "D1188", "run": "b", "hour": 44.29, "dewpoint": 23.93},
      {"series": "D1188", "run": "b", "hour": 44.41, "dewpoint": 25.26},
      {"series": "D1188", "run": "b", "hour": 44.54, "dewpoint": 25.79},
      {"series": "D1188", "run": "b", "hour": 44.75, "dewpoint": 25.79},
      {"series": "D1188", "run": "b", "hour": 44.91, "dewpoint": 25.92},
      {"series": "D1188", "run": "b", "hour": 45.04, "dewpoint": 26.12},
      {"series": "D1188", "run": "b", "hour": 45.25, "dewpoint": 26.39},
      {"series": "D1188", "run": "b", "hour": 45.45, "dewpoint": 26.52},
      {"series": "D1188", "run": "b", "hour": 45.62, "dewpoint": 26.58},
      {"series": "D1188", "run": "b", "hour": 45.79, "dewpoint": 26.45},
      {"series": "D1188", "run": "b", "hour": 45.96, "dewpoint": 26.26},
      {"series": "D1188", "run": "b", "hour": 46.08, "dewpoint": 26.92},
      {"series": "D1188", "run": "b", "hour": 46.29, "dewpoint": 28.32},
      {"series": "D1188", "run": "b", "hour": 46.41, "dewpoint": 27.85},
      {"series": "D1188", "run": "b", "hour": 46.54, "dewpoint": 27.05},
      {"series": "D1188", "run": "b", "hour": 46.71, "dewpoint": 26.12},
      {"series": "D1188", "run": "b", "hour": 46.79, "dewpoint": 25.46},
      {"series": "D1188", "run": "b", "hour": 46.92, "dewpoint": 26.39},
      {"series": "D1188", "run": "b", "hour": 47.04, "dewpoint": 27.32},
      {"series": "D1188", "run": "b", "hour": 47.12, "dewpoint": 26.72},
      {"series": "D1188", "run": "b", "hour": 47.25, "dewpoint": 27.05},
      {"series": "D1188", "run": "b", "hour": 47.37, "dewpoint": 26.92},
      {"series": "D1188", "run": "b", "hour": 47.46, "dewpoint": 27.85},
      {"series": "D1188", "run": "b", "hour": 47.58, "dewpoint": 28.78},
      {"series": "D1188", "run": "b", "hour": 47.67, "dewpoint": 29.25},
      {"series": "D1188", "run": "b", "hour": 47.79, "dewpoint": 28.78},
      {"series": "D1188", "run": "b", "hour": 47.92, "dewpoint": 27.45},
      {"series": "D1188", "run": "b", "hour": 48.04, "dewpoint": 27.65},
      {"series": "D1188", "run": "b", "hour": 48.17, "dewpoint": 28.05},
      {"series": "D1188", "run": "b", "hour": 48.29, "dewpoint": 28.25},
      {"series": "D1188", "run": "b", "hour": 48.46, "dewpoint": 28.25},
      {"series": "D1188", "run": "b", "hour": 48.67, "dewpoint": 28.32},
      {"series": "D1188", "run": "b", "hour": 48.88, "dewpoint": 28.39},
      {"series": "D1188", "run": "b", "hour": 49.09, "dewpoint": 28.45},
      {"series": "D1188", "run": "b", "hour": 49.3, "dewpoint": 28.45},
      {"series": "D1188", "run": "b", "hour": 49.42, "dewpoint": 28.32},
      {"series": "D1188", "run": "b", "hour": 49.63, "dewpoint": 28.25},
      {"series": "D1188", "run": "b", "hour": 49.84, "dewpoint": 28.32},
      {"series": "D1188", "run": "b", "hour": 50.05, "dewpoint": 28.39},
      {"series": "D1188", "run": "b", "hour": 50.25, "dewpoint": 28.49},
      {"series": "D1188", "run": "b", "hour": 50.46, "dewpoint": 28.52},
      {"series": "D1188", "run": "b", "hour": 50.59, "dewpoint": 28.65},
      {"series": "D1188", "run": "b", "hour": 50.67, "dewpoint": 28.98},
      {"series": "D1188", "run": "b", "hour": 50.79, "dewpoint": 29.18},
      {"series": "D1188", "run": "b", "hour": 50.92, "dewpoint": 29.58},
      {"series": "D1188", "run": "b", "hour": 51.0, "dewpoint": 30.25},
      {"series": "D1188", "run": "b", "hour": 51.09, "dewpoint": 30.78},
      {"series": "D1188", "run": "b", "hour": 51.17, "dewpoint": 31.18},
      {"series": "D1188", "run": "b", "hour": 51.25, "dewpoint": 30.11},
      {"series": "D1188", "run": "b", "hour": 51.34, "dewpoint": 30.51},
      {"series": "D1188", "run": "b", "hour": 51.42, "dewpoint": 31.04},
      {"series": "D1188", "run": "b", "hour": 51.5, "dewpoint": 30.9},
      {"series": "D1188", "run": "b", "hour": 51.59, "dewpoint": 31.31},
      {"series": "D1188", "run": "b", "hour": 51.67, "dewpoint": 31.05},
      {"series": "D1188", "run": "b", "hour": 51.75, "dewpoint": 31.44},
      {"series": "D1188", "run": "b", "hour": 51.84, "dewpoint": 31.84},
      {"series": "D1188", "run": "b", "hour": 51.92, "dewpoint": 32.64},
      {"series": "D1188", "run": "b", "hour": 52.0, "dewpoint": 32.91},
      {"series": "D1188", "run": "b", "hour": 52.13, "dewpoint": 33.57},
      {"series": "D1188", "run": "b", "hour": 52.25, "dewpoint": 34.5},
      {"series": "D1188", "run": "b", "hour": 52.38, "dewpoint": 35.17},
      {"series": "D1188", "run": "b", "hour": 52.5, "dewpoint": 35.83},
      {"series": "D1188", "run": "b", "hour": 52.63, "dewpoint": 36.1},
      {"series": "D1188", "run": "b", "hour": 52.75, "dewpoint": 36.17},
      {"series": "D1188", "run": "b", "hour": 52.88, "dewpoint": 35.83},
      {"series": "D1188", "run": "b", "hour": 53.0, "dewpoint": 36.03},
      {"series": "D1188", "run": "b", "hour": 53.17, "dewpoint": 35.77},
      {"series": "D1188", "run": "b", "hour": 53.3, "dewpoint": 36.1},
      {"series": "D1188", "run": "b", "hour": 53.42, "dewpoint": 35.9},
      {"series": "D1188", "run": "b", "hour": 53.59, "dewpoint": 36.17},
      {"series": "D1188", "run": "b", "hour": 53.72, "dewpoint": 36.03},
      {"series": "D1188", "run": "b", "hour": 53.88, "dewpoint": 36.1},
      {"series": "D1188", "run": "b", "hour": 54.0, "dewpoint": 35.9},
      {"series": "D1188", "run": "b", "hour": 54.22, "dewpoint": 35.8},
      {"series": "D1188", "run": "b", "hour": 54.43, "dewpoint": 35.83},
      {"series": "D1188", "run": "b", "hour": 54.63, "dewpoint": 35.9},
      {"series": "D1188", "run": "b", "hour": 54.76, "dewpoint": 36.17},
      {"series": "D1188", "run": "b", "hour": 54.93, "dewpoint": 36.17},
      {"series": "D1188", "run": "b", "hour": 55.05, "dewpoint": 36.23},
      {"series": "D1188", "run": "b", "hour": 55.17, "dewpoint": 36.23},
      {"series": "D1188", "run": "b", "hour": 55.34, "dewpoint": 36.36},
      {"series": "D1188", "run": "b", "hour": 55.51, "dewpoint": 36.36},
      {"series": "D1188", "run": "b", "hour": 55.68, "dewpoint": 36.43},
      {"series": "D1188", "run": "b", "hour": 55.84, "dewpoint": 36.56},
      {"series": "D1188", "run": "b", "hour": 55.97, "dewpoint": 36.23},
      {"series": "D1188", "run": "b", "hour": 56.1, "dewpoint": 36.1},
      {"series": "D1188", "run": "b", "hour": 56.22, "dewpoint": 35.96},
      {"series": "D1188", "run": "b", "hour": 56.35, "dewpoint": 35.7},
      {"series": "D1188", "run": "b", "hour": 56.47, "dewpoint": 35.9},
      {"series": "D1188", "run": "b", "hour": 56.6, "dewpoint": 36.03},
      {"series": "D1188", "run": "b", "hour": 56.72, "dewpoint": 35.83},
      {"series": "D1188", "run": "b", "hour": 56.85, "dewpoint": 35.96},
      {"series": "D1188", "run": "b", "hour": 56.97, "dewpoint": 35.83},
      {"series": "D1188", "run": "b", "hour": 57.1, "dewpoint": 35.57},
      {"series": "D1188", "run": "b", "hour": 57.22, "dewpoint": 35.9},
      {"series": "D1188", "run": "b", "hour": 57.35, "dewpoint": 36.17},
      {"series": "D1188", "run": "b", "hour": 57.47, "dewpoint": 36.1},
      {"series": "D1188", "run": "b", "hour": 57.6, "dewpoint": 36.03},
      {"series": "D1188", "run": "b", "hour": 57.76, "dewpoint": 36.1},
      {"series": "D1188", "run": "b", "hour": 57.93, "dewpoint": 36.23},
      {"series": "D1188", "run": "b", "hour": 58.1, "dewpoint": 36.17},
      {"series": "D1188", "run": "b", "hour": 58.18, "dewpoint": 36.1},
      {"series": "D1188", "run": "b", "hour": 58.31, "dewpoint": 36.23},
      {"series": "D1188", "run": "b", "hour": 58.43, "dewpoint": 36.1},
      {"series": "D1188", "run": "b", "hour": 58.6, "dewpoint": 35.96},
      {"series": "D1188", "run": "b", "hour": 58.81, "dewpoint": 35.96},
      {"series": "D1188", "run": "b", "hour": 58.93, "dewpoint": 35.83},
      {"series": "D1188", "run": "b", "hour": 59.1, "dewpoint": 35.9},
      {"series": "D1188", "run": "b", "hour": 59.22, "dewpoint": 35.96},
      {"series": "D1188", "run": "b", "hour": 59.35, "dewpoint": 35.77},
      {"series": "D1188", "run": "b", "hour": 59.51, "dewpoint": 35.83},
      {"series": "D1188", "run": "b", "hour": 59.64, "dewpoint": 35.43},
      {"series": "D1188", "run": "b", "hour": 59.77, "dewpoint": 35.7},
      {"series": "D1188", "run": "b", "hour": 59.85, "dewpoint": 35.63},
      {"series": "D1188", "run": "b", "hour": 59.98, "dewpoint": 35.9},
      {"series": "D1188", "run": "b", "hour": 60.1, "dewpoint": 35.43},
      {"series": "D1188", "run": "b", "hour": 60.23, "dewpoint": 35.57},
      {"series": "D1188", "run": "b", "hour": 60.35, "dewpoint": 35.43},
      {"series": "D1188", "run": "b", "hour": 60.48, "dewpoint": 35.63},
      {"series": "D1188", "run": "b", "hour": 60.61, "dewpoint": 35.5},
      {"series": "D1188", "run": "b", "hour": 60.77, "dewpoint": 35.57},
      {"series": "D1188", "run": "b", "hour": 60.9, "dewpoint": 35.43},
      {"series": "D1188", "run": "b", "hour": 61.02, "dewpoint": 35.37},
      {"series": "D1188", "run": "b", "hour": 61.11, "dewpoint": 35.1},
      {"series": "D1188", "run": "b", "hour": 61.23, "dewpoint": 35.3},
      {"series": "D1188", "run": "b", "hour": 61.4, "dewpoint": 35.59},
      {"series": "D1188", "run": "b", "hour": 61.57, "dewpoint": 35.59},
      {"series": "D1188", "run": "b", "hour": 61.73, "dewpoint": 35.03},
      {"series": "D1188", "run": "b", "hour": 61.86, "dewpoint": 35.3},
      {"series": "D1188", "run": "b", "hour": 61.98, "dewpoint": 35.7},
      {"series": "D1188", "run": "b", "hour": 62.11, "dewpoint": 35.9},
      {"series": "D1188", "run": "b", "hour": 62.23, "dewpoint": 36.26},
      {"series": "D1188", "run": "b", "hour": 62.57, "dewpoint": 36.23},
      {"series": "D1188", "run": "b", "hour": 63.15, "dewpoint": 36.23},
      {"series": "D1188", "run": "b", "hour": 63.24, "dewpoint": 35.57},
      {"series": "D1188", "run": "b", "hour": 63.32, "dewpoint": 35.83},
      {"series": "D1188", "run": "b", "hour": 63.4, "dewpoint": 35.3},
      {"series": "D1188", "run": "b", "hour": 63.49, "dewpoint": 36.1},
      {"series": "D1188", "run": "b", "hour": 63.61, "dewpoint": 35.9},
      {"series": "D1188", "run": "b", "hour": 63.74, "dewpoint": 35.57},
      {"series": "D1188", "run": "b", "hour": 63.82, "dewpoint": 35.3},
      {"series": "D1188", "run": "b", "hour": 63.94, "dewpoint": 35.17},
      {"series": "D1188", "run": "b", "hour": 64.07, "dewpoint": 34.77},
      {"series": "D1188", "run": "b", "hour": 64.15, "dewpoint": 34.44},
      {"series": "D1188", "run": "b", "hour": 64.24, "dewpoint": 34.7},
      {"series": "D1188", "run": "b", "hour": 64.36, "dewpoint": 35.1},
      {"series": "D1188", "run": "b", "hour": 64.49, "dewpoint": 35.3},
      {"series": "D1188", "run": "b", "hour": 64.61, "dewpoint": 35.37},
      {"series": "D1188", "run": "b", "hour": 64.74, "dewpoint": 35.23},
      {"series": "D1188", "run": "b", "hour": 64.86, "dewpoint": 35.17},
      {"series": "D1188", "run": "b", "hour": 64.99, "dewpoint": 35.1},
      {"series": "D1188", "run": "b", "hour": 65.11, "dewpoint": 35.23},
      {"series": "D1188", "run": "b", "hour": 65.24, "dewpoint": 35.43},
      {"series": "D1188", "run": "b", "hour": 65.36, "dewpoint": 35.5},
      {"series": "D1188", "run": "b", "hour": 65.49, "dewpoint": 35.43},
      {"series": "D1188", "run": "b", "hour": 65.66, "dewpoint": 35.3},
      {"series": "D1188", "run": "b", "hour": 65.78, "dewpoint": 35.03},
      {"series": "D1188", "run": "b", "hour": 65.91, "dewpoint": 34.64},
      {"series": "D1188", "run": "b", "hour": 66.03, "dewpoint": 34.44},
      {"series": "D1188", "run": "b", "hour": 66.16, "dewpoint": 34.57},
      {"series": "D1188", "run": "b", "hour": 66.32, "dewpoint": 34.7},
      {"series": "D1188", "run": "b", "hour": 66.45, "dewpoint": 34.7},
      {"series": "D1188", "run": "b", "hour": 66.53, "dewpoint": 34.37},
      {"series": "D1188", "run": "b", "hour": 66.61, "dewpoint": 33.84},
      {"series": "D1188", "run": "b", "hour": 66.74, "dewpoint": 33.7},
      {"series": "D1188", "run": "b", "hour": 66.87, "dewpoint": 33.9},
      {"series": "D1188", "run": "b", "hour": 66.99, "dewpoint": 33.77},
      {"series": "D1188", "run": "b", "hour": 67.12, "dewpoint": 33.97},
      {"series": "D1188", "run": "b", "hour": 67.24, "dewpoint": 33.7},
      {"series": "D1188", "run": "b", "hour": 67.37, "dewpoint": 33.64},
      {"series": "D1188", "run": "b", "hour": 67.49, "dewpoint": 33.44},
      {"series": "D1188", "run": "b", "hour": 67.57, "dewpoint": 33.3},
      {"series": "D1188", "run": "b", "hour": 67.66, "dewpoint": 33.17},
      {"series": "D1188", "run": "b", "hour": 67.74, "dewpoint": 33.97},
      {"series": "D1188", "run": "b", "hour": 67.83, "dewpoint": 34.7},
      {"series": "D1188", "run": "b", "hour": 67.99, "dewpoint": 34.73},
      {"series": "D1188", "run": "b", "hour": 68.2, "dewpoint": 34.74},
      {"series": "D1188", "run": "b", "hour": 68.33, "dewpoint": 34.84},
      {"series": "D1188", "run": "b", "hour": 68.45, "dewpoint": 35.03},
      {"series": "D1188", "run": "b", "hour": 68.62, "dewpoint": 35.3},
      {"series": "D1188", "run": "b", "hour": 68.74, "dewpoint": 35.37},
      {"series": "D1188", "run": "b", "hour": 68.83, "dewpoint": 35.43},
      {"series": "D1188", "run": "b", "hour": 68.95, "dewpoint": 35.03},
      {"series": "D1188", "run": "b", "hour": 69.08, "dewpoint": 35.23},
      {"series": "D1188", "run": "b", "hour": 69.2, "dewpoint": 34.9},
      {"series": "D1188", "run": "b", "hour": 69.33, "dewpoint": 35.03},
      {"series": "D1188", "run": "b", "hour": 69.45, "dewpoint": 35.17},
      {"series": "D1188", "run": "b", "hour": 69.58, "dewpoint": 34.97},
      {"series": "D1188", "run": "b", "hour": 69.66, "dewpoint": 34.7},
      {"series": "D1188", "run": "b", "hour": 69.79, "dewpoint": 34.5},
      {"series": "D1188", "run": "b", "hour": 69.91, "dewpoint": 34.3},
      {"series": "D1188", "run": "b", "hour": 69.99, "dewpoint": 34.04},
      {"series": "D1188", "run": "b", "hour": 70.12, "dewpoint": 33.9},
      {"series": "D1188", "run": "b", "hour": 70.25, "dewpoint": 33.7},
      {"series": "D1188", "run": "b", "hour": 70.33, "dewpoint": 33.97},
      {"series": "D1188", "run": "b", "hour": 70.46, "dewpoint": 34.1},
      {"series": "D1188", "run": "b", "hour": 70.58, "dewpoint": 34.17},
      {"series": "D1188", "run": "b", "hour": 70.71, "dewpoint": 33.97},
      {"series": "D1188", "run": "b", "hour": 70.83, "dewpoint": 33.64},
      {"series": "D1188", "run": "b", "hour": 70.96, "dewpoint": 33.77},
      {"series": "D1188", "run": "b", "hour": 71.08, "dewpoint": 34.04},
      {"series": "D1188", "run": "b", "hour": 71.21, "dewpoint": 34.5},
      {"series": "D1188", "run": "b", "hour": 71.33, "dewpoint": 35.23},
      {"series": "D1188", "run": "b", "hour": 71.46, "dewpoint": 35.57},
      {"series": "D1188", "run": "b", "hour": 71.54, "dewpoint": 35.43},
      {"series": "D1188", "run": "b", "hour": 71.62, "dewpoint": 33.97},
      {"series": "D1188", "run": "b", "hour": 71.66, "dewpoint": 32.91},
      {"series": "D1188", "run": "b", "hour": 71.8, "dewpoint": 30.78}
    ]
  },
  "layer": [
    {
      "data": {"name": "sun"},
      "mark": {"type": "rule", "color": "black", "strokeWidth": 1},
      "encoding": {
        "x": {"field": "hour", "type": "quantitative", "scale": {"domain": [0, 72], "nice": false, "zero": false},
              "axis": {"orient": "top", "values": [0,2,4,6,8,10,12,14,16,18,20,22,24,26,28,30,32,34,36,38,40,42,44,46,48,50,52,54,56,58,60,62,64,66,68,70,72], "labels": false, "tickSize": -5, "title": null}},
        "y": {"datum": 22, "type": "quantitative", "scale": {"domain": [22, 38], "nice": false, "zero": false},
              "axis": {"orient": "right", "values": [22,24,26,28,30,32,34,36,38], "labels": false, "tickSize": -5, "title": null}},
        "y2": {"datum": 35.6}
      }
    },
    {
      "data": {"name": "obs"},
      "mark": {"type": "line", "strokeWidth": 1, "interpolate": "linear"},
      "encoding": {
        "x": {"field": "hour", "type": "quantitative",
              "axis": {"orient": "bottom", "values": [0,2,4,6,8,10,12,14,16,18,20,22,24,26,28,30,32,34,36,38,40,42,44,46,48,50,52,54,56,58,60,62,64,66,68,70,72],
                       "labelExpr": "datum.value % 6 === 0 ? ['04/' + (22 + floor(datum.value / 24)), (datum.value % 24 < 10 ? '0' : '') + (datum.value % 24) + ':00'] : ''",
                       "tickSize": -5, "labelPadding": 13, "labelLineHeight": 14, "labelBaseline": "top", "title": null}},
        "y": {"field": "dewpoint", "type": "quantitative",
              "axis": {"orient": "left", "values": [22,24,26,28,30,32,34,36,38], "tickSize": -5, "labelPadding": 12, "title": "degrees F", "titlePadding": 12}},
        "color": {"field": "series", "type": "nominal",
                  "scale": {"domain": ["D1188 Analysis", "D1188"], "range": ["#ff0000", "#0080ff"]},
                  "legend": {"orient": "none", "legendX": 543, "legendY": 6, "title": null, "symbolType": "M-3,0H3", "symbolSize": 87, "symbolStrokeWidth": 1, "labelAlign": "right", "labelOffset": -26, "rowPadding": 3, "padding": 0}},
        "detail": {"field": "run"}
      }
    },
    {
      "data": {"name": "sun"},
      "mark": {"type": "text", "angle": 270, "align": "left", "baseline": "middle", "fontSize": 10, "font": "DejaVu Sans Mono", "color": "black"},
      "encoding": {
        "x": {"field": "hour", "type": "quantitative", "axis": null},
        "y": {"datum": 35.88, "type": "quantitative", "axis": null},
        "text": {"field": "event"}
      }
    }
  ]
}
